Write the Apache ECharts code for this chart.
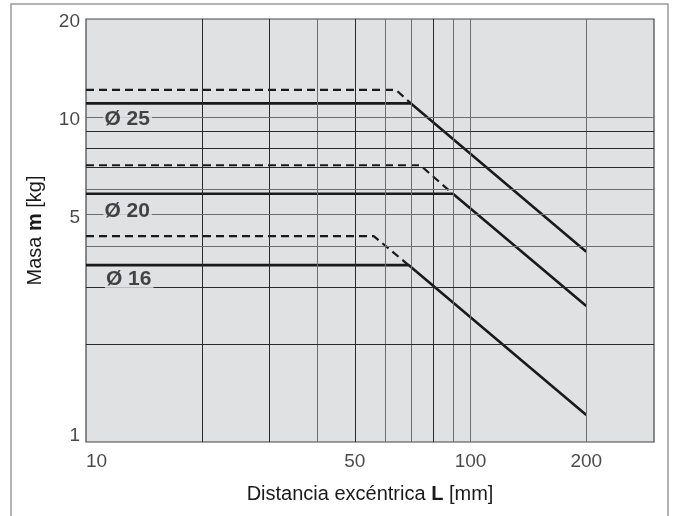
<!DOCTYPE html>
<html>
<head>
<meta charset="utf-8">
<script src="https://cdn.jsdelivr.net/npm/echarts@6/dist/echarts.min.js"></script>
<style>html,body{margin:0;padding:0;background:#fff}#c{width:674px;height:516px}</style>
</head>
<body>
<div id="c"></div>
<script>
// ---- data ----
const xTickLabels = [10, 50, 100, 200];
const yTickLabels = [1, 5, 10, 20];
const xGridValues = [20, 30, 40, 50, 60, 70, 80, 90, 100, 200];
const xGridDark = [20, 30, 50, 80];
const yGridValues = [2, 3, 4, 5, 6, 7, 8, 9, 10];
const yGridDark = [2, 3, 7, 8, 9];

const d25Solid = [[10, 11], [70, 11], [200, 3.85]];
const d25Dashed = [[10, 12.1], [64, 12.1], [70, 11]];
const d20Solid = [[10, 5.8], [90, 5.8], [200, 2.62]];
const d20Dashed = [[10, 7.1], [74, 7.1], [90, 5.8]];
const d16Solid = [[10, 3.5], [69, 3.5], [200, 1.21]];
const d16Dashed = [[10, 4.3], [56, 4.3], [69, 3.5]];

const diamNames = ['Ø 25', 'Ø 20', 'Ø 16'];
const diamLabelL = [11.1, 11.1, 11.2];
const diamLabelM = [9.85, 5.12, 3.17];

const FONT = '"Liberation Sans", Arial, sans-serif';
const PLOT_BG = '#e0e1e3';

const chart = echarts.init(document.getElementById('c'), null, {renderer: 'canvas'});

function lineSeries(data, dashed) {
  return {
    type: 'line', data: data, symbol: 'none', smooth: false, z: 3, silent: true,
    lineStyle: dashed ? {color: '#1a1a1a', width: 2.2, type: [8, 5]} : {color: '#1a1a1a', width: 2.6}
  };
}

const gridMarkData = [];
xGridValues.forEach(v => gridMarkData.push({xAxis: v, lineStyle: {color: xGridDark.includes(v) ? '#2a2a2a' : '#6e6e6e', width: 1, type: 'solid'}}));
yGridValues.forEach(v => gridMarkData.push({yAxis: v, lineStyle: {color: yGridDark.includes(v) ? '#2a2a2a' : '#6e6e6e', width: 1, type: 'solid'}}));

const option = {
  animation: false,
  backgroundColor: '#fff',
  graphic: [{
    type: 'rect', shape: {x: 11, y: 4, width: 657, height: 530},
    style: {fill: 'none', stroke: '#9a9a9a', lineWidth: 1.5}, silent: true
  }],
  grid: {
    left: 86, right: 20, top: 19, bottom: 74, show: true,
    backgroundColor: PLOT_BG, borderColor: '#444', borderWidth: 1.2,
    outerBoundsMode: 'none'
  },
  xAxis: {
    type: 'log', logBase: 10, min: 10, max: 300,
    axisLine: {show: false}, axisTick: {show: false}, axisLabel: {show: false},
    splitLine: {show: false}, minorSplitLine: {show: false},
    name: '{n|Distancia excéntrica }{b|L}{n| [mm]}',
    nameLocation: 'middle', nameGap: 42,
    nameTextStyle: {
      rich: {
        n: {fontFamily: FONT, fontSize: 20, color: '#1a1a1a'},
        b: {fontFamily: FONT, fontSize: 20, color: '#1a1a1a', fontWeight: 'bold'}
      }
    }
  },
  yAxis: {
    type: 'log', logBase: 10, min: 1, max: 20,
    axisLine: {show: false}, axisTick: {show: false}, axisLabel: {show: false},
    splitLine: {show: false}, minorSplitLine: {show: false},
    name: '{n|Masa }{b|m}{n| [kg]}',
    nameLocation: 'middle', nameGap: 41, nameRotate: 90,
    nameTextStyle: {
      rich: {
        n: {fontFamily: FONT, fontSize: 20, color: '#1a1a1a'},
        b: {fontFamily: FONT, fontSize: 20, color: '#1a1a1a', fontWeight: 'bold'}
      }
    }
  },
  series: [
    {
      type: 'line', data: [[10, 1]], symbol: 'none', z: 1, silent: true,
      lineStyle: {opacity: 0},
      markLine: {silent: true, symbol: 'none', label: {show: false}, animation: false, data: gridMarkData}
    },
    lineSeries(d25Dashed, true),
    lineSeries(d25Solid, false),
    lineSeries(d20Dashed, true),
    lineSeries(d20Solid, false),
    lineSeries(d16Dashed, true),
    lineSeries(d16Solid, false),
    {
      // diameter annotations
      type: 'scatter', symbolSize: 0, z: 5, silent: true, clip: false,
      data: diamNames.map((n, i) => ({value: [diamLabelL[i], diamLabelM[i]], name: n})),
      label: {
        show: true, position: 'right', distance: 0, formatter: p => p.name,
        fontFamily: FONT, fontSize: 21, fontWeight: 'bold', color: '#1a1a1a',
        backgroundColor: PLOT_BG, padding: [0, 2, 0, 1]
      }
    },
    {
      // x tick labels
      type: 'scatter', symbolSize: 0, z: 5, silent: true, clip: false,
      data: xTickLabels.map((v, i) => ({value: [v, 1], label: i === 0 ? {align: 'left'} : {}})),
      label: {
        show: true, position: 'bottom', distance: 10, formatter: p => String(p.value[0]),
        fontFamily: FONT, fontSize: 19, color: '#1a1a1a'
      }
    },
    {
      // y tick labels
      type: 'scatter', symbolSize: 0, z: 5, silent: true, clip: false,
      data: yTickLabels.map((v, i) => ({value: [10, v], label: i === 0 ? {offset: [0, -6]} : {offset: [0, 3]}})),
      label: {
        show: true, position: 'left', distance: 6, formatter: p => String(p.value[1]),
        fontFamily: FONT, fontSize: 19, color: '#1a1a1a'
      }
    }
  ]
};
chart.setOption(option);
</script>
</body>
</html>
